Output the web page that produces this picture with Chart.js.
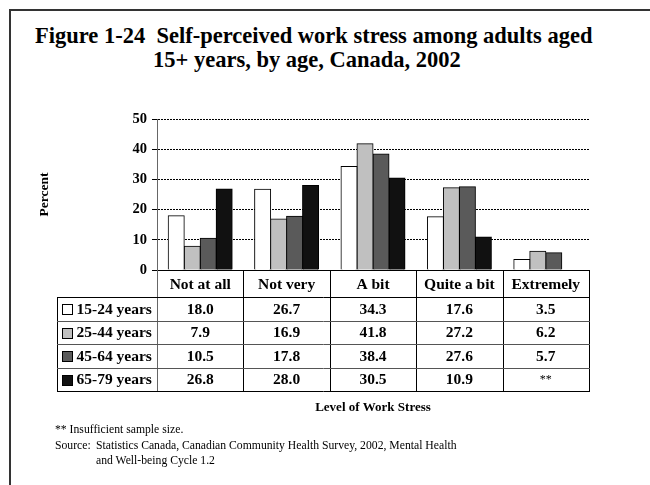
<!DOCTYPE html>
<html>
<head>
<meta charset="utf-8">
<script src="https://cdn.jsdelivr.net/npm/chart.js@4/dist/chart.umd.min.js"></script>
<style>
  body { margin: 0; background: #fff; }
  #wrap { position: relative; width: 650px; height: 485px; overflow: hidden; font-family: "Liberation Serif", "Times New Roman", serif; }
  #frame { position: absolute; left: 9px; top: 9px; width: 660px; height: 500px; border-top: 2px solid #333; border-left: 2px solid #333; }
  .title { position: absolute; font-weight: bold; font-size: 22.5px; color: #000; white-space: nowrap; }
  .note { position: absolute; font-size: 11.7px; color: #000; white-space: nowrap; }
  canvas { position: absolute; left: 0; top: 0; }
</style>
</head>
<body>
<div id="wrap">
  <div id="frame"></div>
  <div class="title" style="left:35px; top:23px;">Figure 1-24&nbsp;&nbsp;Self-perceived work stress among adults aged</div>
  <div class="title" style="left:153px; top:47px;">15+ years, by age, Canada, 2002</div>
  <canvas id="chart" width="650" height="485"></canvas>
  <div class="note" style="left:55px; top:423px;">** Insufficient sample size.</div>
  <div class="note" style="left:55px; top:439px;">Source:</div>
  <div class="note" style="left:96px; top:439px;">Statistics Canada, Canadian Community Health Survey, 2002, Mental Health</div>
  <div class="note" style="left:96px; top:454px;">and Well-being Cycle 1.2</div>
</div>
<script>
const categories = ["Not at all", "Not very", "A bit", "Quite a bit", "Extremely"];
const ageGroups = ["15-24 years", "25-44 years", "45-64 years", "65-79 years"];
const age15to24 = [18.0, 26.7, 34.3, 17.6, 3.5];
const age25to44 = [7.9, 16.9, 41.8, 27.2, 6.2];
const age45to64 = [10.5, 17.8, 38.4, 27.6, 5.7];
const age65to79 = [26.8, 28.0, 30.5, 10.9, null];
const yTicks = [0, 10, 20, 30, 40, 50];
const colors = ["#ffffff", "#c0c0c0", "#5a5a5a", "#111111"];

const font = "'Liberation Serif', 'Times New Roman', serif";
const series = [age15to24, age25to44, age45to64, age65to79];

// table below the plot, columns follow the x scale
const tablePlugin = {
  id: "dataTable",
  afterDraw(chart) {
    const ctx = chart.ctx;
    const area = chart.chartArea;
    const x = chart.scales.x;
    const tableLeft = 57;
    const headerBottom = 297;
    const rowH = 23.5;
    const bottom = headerBottom + rowH * ageGroups.length;
    const step = (area.right - area.left) / categories.length;

    ctx.save();
    ctx.lineWidth = 1;
    ctx.setLineDash([]);
    // y axis continues through header row
    ctx.strokeStyle = "#666";
    ctx.beginPath();
    ctx.moveTo(area.left + 0.5, area.bottom);
    ctx.lineTo(area.left + 0.5, bottom);
    ctx.stroke();
    ctx.strokeStyle = "#000";
    // column lines
    for (let i = 1; i <= categories.length; i++) {
      const cx = Math.round(area.left + step * i) + 0.5;
      ctx.beginPath();
      ctx.moveTo(cx, area.bottom);
      ctx.lineTo(cx, bottom);
      ctx.stroke();
    }
    ctx.beginPath();
    ctx.moveTo(tableLeft + 0.5, headerBottom);
    ctx.lineTo(tableLeft + 0.5, bottom);
    ctx.stroke();
    // row lines
    for (let r = 0; r <= ageGroups.length; r++) {
      const ry = Math.round(headerBottom + rowH * r) + 0.5;
      ctx.strokeStyle = (r === 0 || r === ageGroups.length) ? "#000" : "#555";
      ctx.beginPath();
      ctx.moveTo(tableLeft, ry);
      ctx.lineTo(area.right + 1, ry);
      ctx.stroke();
    }
    // rows
    ctx.font = "bold 15.5px " + font;
    ctx.textBaseline = "middle";
    ageGroups.forEach((g, r) => {
      const cy = headerBottom + rowH * r + rowH / 2 + 1;
      ctx.fillStyle = colors[r];
      ctx.fillRect(62.5, Math.round(cy - 5.5) + 0.5, 10, 10);
      ctx.strokeStyle = "#000";
      ctx.strokeRect(62.5, Math.round(cy - 5.5) + 0.5, 10, 10);
      ctx.fillStyle = "#000";
      ctx.textAlign = "left";
      ctx.fillText(g, 76.5, cy);
      ctx.textAlign = "center";
      series[r].forEach((v, c) => {
        const px = x.getPixelForValue(c);
        if (v === null) {
          ctx.font = "12px " + font;
          ctx.fillText("**", px, cy);
          ctx.font = "bold 15.5px " + font;
        } else {
          ctx.fillText(v.toFixed(1), px, cy);
        }
      });
    });
    // axis caption
    ctx.textAlign = "center";
    ctx.font = "bold 13px " + font;
    ctx.fillText("Level of Work Stress", (area.left + area.right) / 2, 408);
    ctx.restore();
  }
};

new Chart(document.getElementById("chart"), {
  type: "bar",
  data: {
    labels: categories,
    datasets: ageGroups.map((g, i) => ({
      label: g,
      data: series[i],
      backgroundColor: colors[i],
      borderColor: "#000",
      borderWidth: 1,
      inflateAmount: 0.5,
      categoryPercentage: 0.74,
      barPercentage: 1.0,
    })),
  },
  options: {
    responsive: false,
    animation: false,
    layout: { padding: { left: 36, right: 61, top: 119, bottom: 0 } },
    plugins: { legend: { display: false }, tooltip: { enabled: false }, title: { display: false } },
    scales: {
      x: {
        grid: { display: false, drawTicks: false },
        border: { display: true, color: "#000", width: 1 },
        ticks: { color: "#000", padding: 6, font: { family: font, size: 15.5, weight: "bold" } },
        afterFit(scale) { scale.height = 215; },
      },
      y: {
        min: 0,
        max: 50,
        afterBuildTicks(scale) { scale.ticks = yTicks.map((v) => ({ value: v })); },
        grid: {
          color: (c) => (c.tick && c.tick.value === 0 ? "rgba(0,0,0,0)" : "#000"),
          lineWidth: 1,
          tickLength: 5,
          tickColor: "#000",
          tickBorderDash: [],
        },
        border: { display: true, color: "#666", width: 1, dash: [2, 1] },
        ticks: { color: "#000", padding: 5, font: { family: font, size: 14.5, weight: "bold" } },
        title: { display: true, text: "Percent", color: "#000", padding: 0, font: { family: font, size: 13.5, weight: "bold" } },
        afterFit(scale) { scale.width = 121; },
      },
    },
  },
  plugins: [tablePlugin],
});
</script>
</body>
</html>
